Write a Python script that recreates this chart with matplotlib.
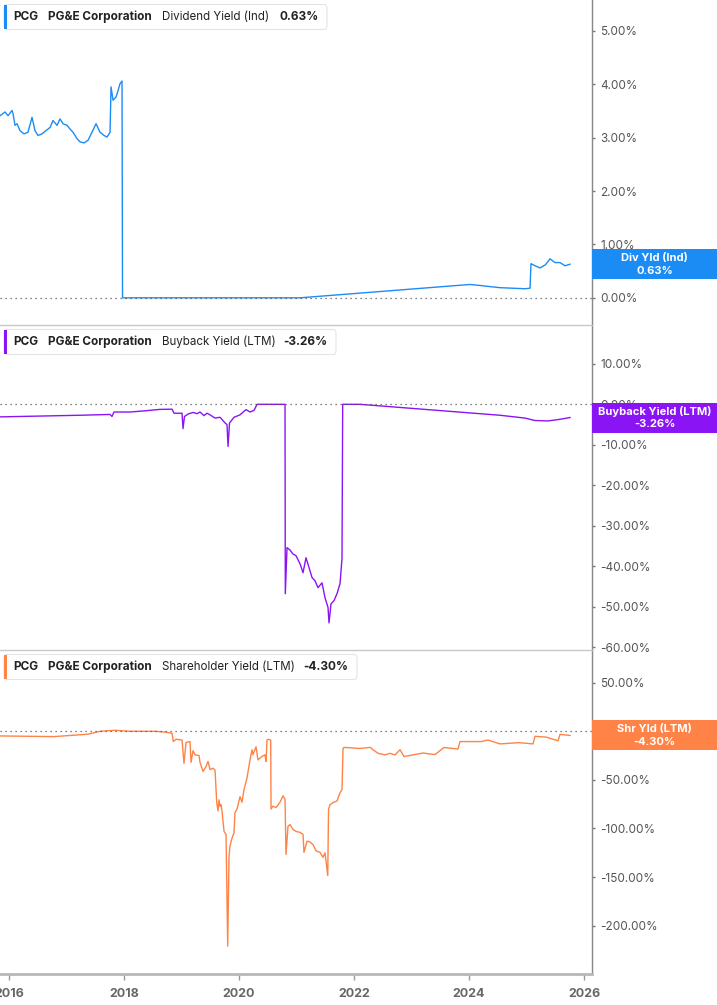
import matplotlib
matplotlib.use('Agg')
import matplotlib.pyplot as plt
from matplotlib.patches import Rectangle, FancyBboxPatch

W, H = 717, 1005
plt.rcParams['font.family'] = ['Inter', 'DejaVu Sans']

# --- data (decimal year, percent) ---
div_t = [2015.843, 2015.93, 2015.983, 2016.052, 2016.07, 2016.104, 2016.139, 2016.191, 2016.26,
         2016.33, 2016.4, 2016.452, 2016.504, 2016.574, 2016.643, 2016.713, 2016.765, 2016.835,
         2016.887, 2016.939, 2017.009, 2017.061, 2017.113, 2017.183, 2017.235, 2017.304, 2017.374,
         2017.443, 2017.513, 2017.583, 2017.652, 2017.704, 2017.757, 2017.774, 2017.809, 2017.861,
         2017.896, 2017.93, 2017.965, 2017.974, 2021.061, 2024.017, 2024.2, 2024.365, 2024.539,
         2024.974, 2025.061, 2025.078, 2025.148, 2025.235, 2025.33, 2025.409, 2025.496, 2025.583,
         2025.67, 2025.757]
div_v = [3.41, 3.48, 3.41, 3.51, 3.45, 3.23, 3.26, 3.13, 3.07, 3.10, 3.38, 3.13, 3.04, 3.07, 3.13,
         3.19, 3.32, 3.23, 3.35, 3.26, 3.23, 3.16, 3.10, 2.98, 2.92, 2.90, 2.95, 3.10, 3.26, 3.10,
         3.04, 3.01, 3.10, 3.95, 3.70, 3.76, 3.88, 4.01, 4.06, 0.0, 0.0, 0.25, 0.23, 0.21, 0.19,
         0.17, 0.18, 0.64, 0.60, 0.56, 0.62, 0.73, 0.66, 0.66, 0.60, 0.63]

bb_t = [2015.843, 2016.539, 2017.235, 2017.757, 2017.791, 2017.826, 2018.104, 2018.365, 2018.626,
        2018.835, 2018.87, 2019.009, 2019.026, 2019.052, 2019.113, 2019.2, 2019.27, 2019.322,
        2019.391, 2019.443, 2019.496, 2019.583, 2019.67, 2019.757, 2019.791, 2019.809, 2019.835,
        2019.913, 2020.017, 2020.122, 2020.191, 2020.261, 2020.296, 2020.313, 2020.8, 2020.805,
        2020.835, 2020.887, 2020.939, 2020.991, 2021.061, 2021.113, 2021.165, 2021.217, 2021.27,
        2021.322, 2021.374, 2021.443, 2021.496, 2021.548, 2021.565, 2021.6, 2021.652, 2021.704,
        2021.757, 2021.791, 2021.803, 2022.104, 2024.539, 2024.974, 2025.148, 2025.374, 2025.583,
        2025.757]
bb_v = [-3.1, -2.9, -2.7, -2.5, -3.0, -1.9, -1.9, -1.6, -1.25, -1.2, -2.2, -2.2, -6.0, -3.0, -2.4,
        -2.0, -2.3, -1.9, -2.8, -2.2, -2.6, -3.4, -3.2, -4.6, -5.0, -10.4, -4.6, -3.2, -2.6, -1.3,
        -1.9, -1.5, -0.5, 0.0, 0.0, -46.8, -35.4, -36.0, -37.0, -37.4, -39.4, -41.6, -37.9, -40.3,
        -42.8, -43.6, -45.3, -44.1, -47.8, -50.2, -54.0, -49.3, -48.5, -46.8, -44.3, -38.1, 0.0,
        0.0, -2.7, -3.4, -4.0, -4.1, -3.7, -3.26]

shr_t = [2015.843, 2016.783, 2017.374, 2017.583, 2017.843, 2018.104, 2018.539, 2018.73, 2018.835,
         2018.857, 2018.904, 2019.009, 2019.043, 2019.078, 2019.148, 2019.165, 2019.2, 2019.235,
         2019.304, 2019.322, 2019.374, 2019.426, 2019.461, 2019.496, 2019.548, 2019.583, 2019.612,
         2019.635, 2019.652, 2019.67, 2019.687, 2019.704, 2019.739, 2019.774, 2019.803, 2019.826,
         2019.843, 2019.878, 2019.913, 2019.93, 2019.965, 2020.017, 2020.052, 2020.087, 2020.139,
         2020.191, 2020.226, 2020.243, 2020.296, 2020.33, 2020.365, 2020.4, 2020.452, 2020.47,
         2020.487, 2020.504, 2020.551, 2020.557, 2020.591, 2020.643, 2020.713, 2020.765, 2020.8,
         2020.817, 2020.852, 2020.887, 2020.939, 2020.991, 2021.061, 2021.113, 2021.13, 2021.183,
         2021.235, 2021.287, 2021.339, 2021.409, 2021.461, 2021.496, 2021.543, 2021.557, 2021.583,
         2021.635, 2021.704, 2021.757, 2021.791, 2021.809, 2021.826, 2022.104, 2022.278, 2022.417,
         2022.539, 2022.626, 2022.713, 2022.8, 2022.87, 2023.2, 2023.409, 2023.565, 2023.809,
         2023.843, 2024.209, 2024.33, 2024.539, 2024.87, 2025.113, 2025.148, 2025.339, 2025.548,
         2025.583, 2025.757]
shr_v = [-4.8, -5.5, -3.0, 0.0, 1.0, 0.0, 0.0, -1.0, -2.0, -10.5, -8.2, -9.0, -33.0, -11.5, -10.5,
         -32.0, -20.0, -24.3, -25.0, -32.0, -41.4, -36.3, -31.0, -39.4, -38.0, -40.0, -73.0, -82.0,
         -70.6, -77.0, -75.5, -82.0, -103.0, -106.0, -221.0, -128.5, -118.0, -110.0, -104.5, -83.5,
         -80.0, -67.3, -73.0, -60.0, -48.0, -29.4, -19.0, -24.0, -16.0, -29.5, -27.6, -25.8, -24.3,
         -31.0, -9.0, -8.3, -9.0, -80.0, -77.0, -78.5, -73.0, -66.4, -70.0, -126.8, -97.7, -96.0,
         -101.0, -103.0, -104.0, -106.0, -124.6, -113.0, -114.0, -116.6, -123.0, -124.6, -129.7,
         -125.0, -148.5, -80.0, -75.5, -73.4, -71.7, -63.2, -60.0, -17.7, -16.6, -17.7, -16.6,
         -22.7, -24.3, -22.7, -24.3, -19.0, -26.0, -22.4, -24.0, -16.7, -18.3, -10.6, -10.6, -9.0,
         -13.0, -11.7, -13.0, -5.2, -6.0, -9.8, -3.2, -4.30]

metric_names = ['Dividend Yield (Ind)', 'Buyback Yield (LTM)', 'Shareholder Yield (LTM)']
short_names = ['Div Yld (Ind)', 'Buyback Yield (LTM)', 'Shr Yld (LTM)']
last_labels = ['0.63%', '-3.26%', '-4.30%']
y_ticks = [[0, 1, 2, 3, 4, 5],
           [10, 0, -10, -20, -30, -40, -50, -60],
           [50, 0, -50, -100, -150, -200]]
y_lims = [(-0.509, 5.577), (-60.7, 19.6), (-249.7, 83.6)]
x_ticks = [2016, 2018, 2020, 2022, 2024, 2026]
colors = ['#1c8cf5', '#8a14f4', '#ff8347']

panels = [(div_t, div_v), (bb_t, bb_v), (shr_t, shr_v)]
tops_px = [0, 325, 650]
bots_px = [325, 650, 974]
right_px = 592
xlim = (2015.843, 2026.139)

fig = plt.figure(figsize=(W / 100, H / 100), dpi=100)


def fx(px):
    return px / W


def fy(py):
    return 1 - py / H


for i, (t, v) in enumerate(panels):
    ax = fig.add_axes([0, fy(bots_px[i]), fx(right_px), fy(tops_px[i]) - fy(bots_px[i])])
    ax.plot(t, v, color=colors[i], lw=1.0)
    ax.axhline(0, color='#555555', lw=0.9, ls=(0, (1, 3)))
    ax.set_xlim(*xlim)
    ax.set_ylim(*y_lims[i])
    ax.set_yticks(y_ticks[i])
    ax.set_yticklabels([f'{y:.2f}%' for y in y_ticks[i]])
    ax.yaxis.tick_right()
    ax.tick_params(axis='y', length=2, width=1, color='#777777', pad=4,
                   labelsize=8.5, labelcolor='#555555')
    ax.spines['left'].set_visible(False)
    ax.spines['right'].set_color('#888888')
    ax.spines['right'].set_linewidth(1)
    if i == 0:
        ax.spines['top'].set_visible(False)
    else:
        ax.spines['top'].set_color('#c8c8c8')
        ax.spines['top'].set_linewidth(1)
    if i == 2:
        ax.set_xticks(x_ticks)
        ax.set_xticklabels([str(x) for x in x_ticks])
        ax.spines['bottom'].set_color('#b8b8b8')
        ax.spines['bottom'].set_linewidth(2)
        ax.tick_params(axis='x', length=4, width=1, color='#999999', pad=6,
                       labelsize=9, labelcolor='#666666')
        for lab in ax.get_xticklabels():
            lab.set_fontweight('bold')
    else:
        ax.set_xticks([])
        ax.spines['bottom'].set_visible(False)
    ax.patch.set_alpha(0)

    # end-value box on the right
    _, cy = ax.transData.transform((t[-1], v[-1]))
    cy_px = H - cy
    fig.patches.append(Rectangle((fx(right_px), fy(cy_px + 15)), fx(W - right_px), 30 / H,
                                 transform=fig.transFigure, facecolor=colors[i],
                                 edgecolor='none', zorder=5))
    fig.text(fx(654.5), fy(cy_px - 6.5), short_names[i], ha='center', va='center',
             color='white', fontsize=8, fontweight='bold', zorder=6)
    fig.text(fx(654.5), fy(cy_px + 6.5), last_labels[i], ha='center', va='center',
             color='white', fontsize=8, fontweight='bold', zorder=6)

    # legend box at top-left
    ly = tops_px[i] + 17
    box_w = [323, 332, 353][i]
    fig.patches.append(FancyBboxPatch((fx(4), fy(ly + 12.5)), fx(box_w), 25 / H,
                                      boxstyle='round,pad=0,rounding_size=0.004',
                                      transform=fig.transFigure, facecolor='white',
                                      edgecolor='#e4e4e4', lw=0.8, zorder=5))
    fig.patches.append(Rectangle((fx(4), fy(ly + 12)), fx(3), 24 / H,
                                 transform=fig.transFigure, facecolor=colors[i],
                                 edgecolor='none', zorder=6))
    fig.text(fx(13), fy(ly), 'PCG', ha='left', va='center', fontsize=8.5,
             fontweight='bold', color='#222222', zorder=7)
    fig.text(fx(48), fy(ly), 'PG&E Corporation', ha='left', va='center', fontsize=8.5,
             fontweight='bold', color='#222222', zorder=7)
    fig.text(fx(162), fy(ly), metric_names[i], ha='left', va='center', fontsize=8.3,
             color='#222222', zorder=7)
    fig.text(fx([279, 283, 303][i]), fy(ly), last_labels[i], ha='left', va='center',
             fontsize=8.5, fontweight='bold', color='#222222', zorder=7)

fig.savefig('out.png', dpi=100)
